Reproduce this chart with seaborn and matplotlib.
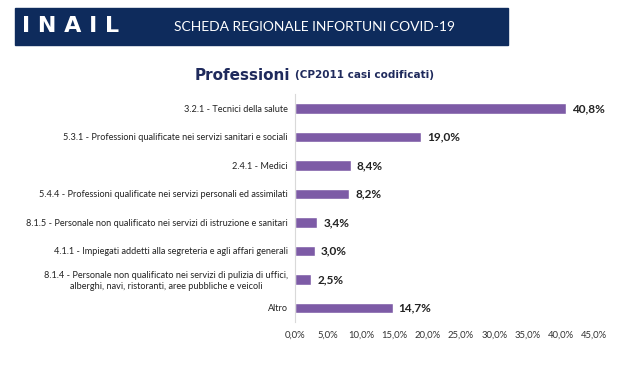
import seaborn as sns
import matplotlib.pyplot as plt
from matplotlib.patches import Rectangle
from matplotlib.ticker import FuncFormatter

professioni = [
    "3.2.1 - Tecnici della salute",
    "5.3.1 - Professioni qualificate nei servizi sanitari e sociali",
    "2.4.1 - Medici",
    "5.4.4 - Professioni qualificate nei servizi personali ed assimilati",
    "8.1.5 - Personale non qualificato nei servizi di istruzione e sanitari",
    "4.1.1 - Impiegati addetti alla segreteria e agli affari generali",
    "8.1.4 - Personale non qualificato nei servizi di pulizia di uffici,\nalberghi, navi, ristoranti, aree pubbliche e veicoli",
    "Altro",
]
quote = [40.8, 19.0, 8.4, 8.2, 3.4, 3.0, 2.5, 14.7]
x_ticks = [0, 5, 10, 15, 20, 25, 30, 35, 40, 45]

sns.set_style("white")
plt.rcParams["font.family"] = ["Lato", "DejaVu Sans"]

fig = plt.figure(figsize=(6.26, 3.8), dpi=100)
ax = fig.add_axes([0.471, 0.152, 0.478, 0.600])

sns.barplot(x=quote, y=professioni, orient="h", color="#7D5BA6",
            width=0.36, ax=ax, saturation=1)

for i, v in enumerate(quote):
    ax.text(v + 0.9, i, f"{v:.1f}%".replace(".", ","), va="center", ha="left",
            fontsize=8.5, fontweight="bold", color="#222222")

ax.set_xlim(0, 45)
ax.set_ylim(7.5, -0.5)
ax.set_xticks(x_ticks)
ax.xaxis.set_major_formatter(FuncFormatter(lambda v, p: f"{v:.1f}%".replace(".", ",")))
ax.tick_params(axis="x", labelsize=6.8, colors="#333333", length=0, pad=6)
ax.tick_params(axis="y", labelsize=6.6, colors="#222222", length=0, pad=5)
for lbl in ax.get_yticklabels():
    lbl.set_multialignment("center")
for s in ["top", "right", "bottom"]:
    ax.spines[s].set_visible(False)
ax.spines["left"].set_color("#d9d9d9")
ax.spines["left"].set_linewidth(0.8)
ax.set_xlabel("")
ax.set_ylabel("")

# banner
fig.patches.append(Rectangle((15 / 626, 1 - 45 / 380), 493 / 626, 37 / 380,
                             transform=fig.transFigure, color="#0E2B5C", zorder=0))
fig.text(22 / 626, 1 - 26 / 380, "I N A I L", color="white", fontsize=16,
         fontweight="bold", ha="left", va="center", family="DejaVu Sans")
fig.text(315 / 626, 1 - 27 / 380, "SCHEDA REGIONALE INFORTUNI COVID-19",
         color="white", fontsize=10, ha="center", va="center")

fig.text(290 / 626, 1 - 75 / 380, "Professioni", color="#1F2A5C", fontsize=11,
         fontweight="bold", ha="right", va="center", family="DejaVu Sans")
fig.text(295 / 626, 1 - 75 / 380, "(CP2011 casi codificati)", color="#1F2A5C",
         fontsize=7.5, fontweight="bold", ha="left", va="center", family="DejaVu Sans")

fig.savefig("out.png", dpi=100)
